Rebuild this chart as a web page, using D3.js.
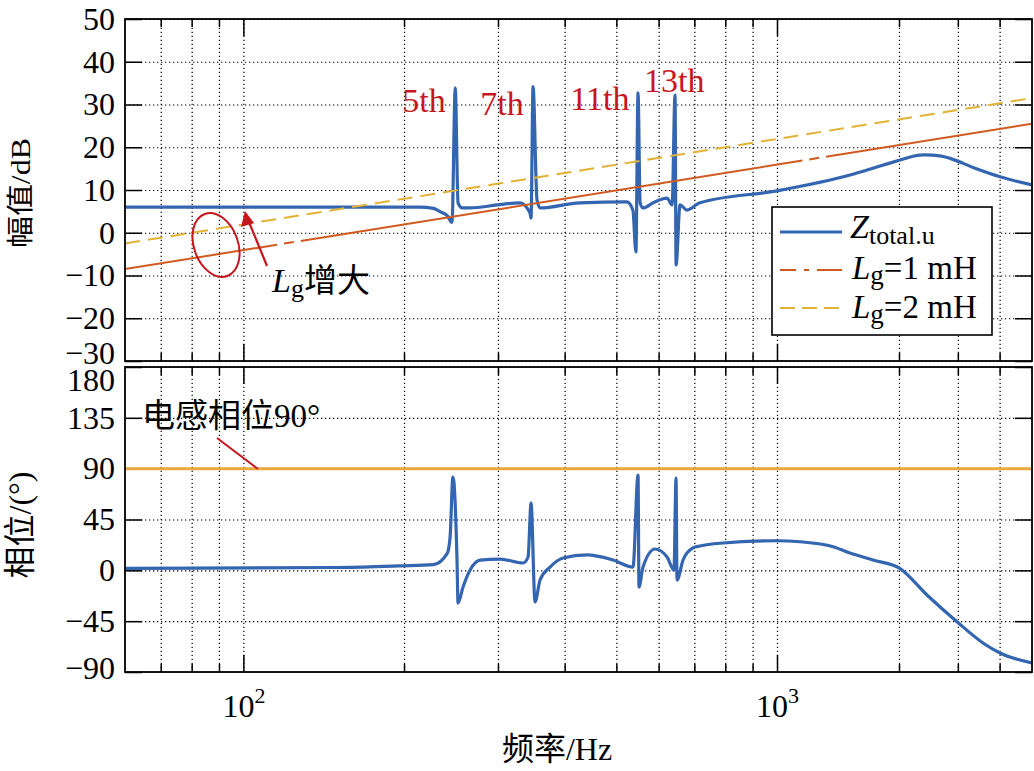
<!DOCTYPE html>
<html>
<head>
<meta charset="utf-8">
<script src="https://cdn.jsdelivr.net/npm/d3@7"></script>
<style>
body { margin: 0; background: #fff; }
text { font-family: "Liberation Serif", "Noto Sans CJK SC", serif; }
</style>
</head>
<body>
<div id="chart"></div>
<script>
// values
const magFreq = [60, 150, 214, 227, 234, 241, 246, 249.5, 252.5, 257, 266, 299, 330, 344.5, 346, 349, 355, 360, 427, 523,
  537, 544, 549, 554, 561, 586, 622, 636, 644, 647, 658, 678, 717, 1000, 1514, 1796, 2014, 2202, 2392, 2652,
  2842, 3377, 4011, 5000];
const magDb = [6.0, 6.0, 6.0, 5.7, 4.9, 4.0, 2.4, 33.9, 7.0, 5.8, 5.8, 6.5, 7.0, 4.6, 3.4, 34.2, 7.7, 5.8, 7.0, 7.2,
  5.3, -4.5, 32.7, 7.0, 5.8, 7.0, 8.1, 6.5, 32.2, -7.5, 6.5, 5.3, 7.0, 9.8, 13.5, 15.6, 17.0, 17.9, 18.2, 18.0,
  17.4, 15.1, 13.1, 11.2];

const phaseFreq = [60, 150, 196, 227, 241, 244, 247, 251.4, 252.5, 258, 266, 277.6, 302.7, 334.3, 341.6, 346, 352, 359.7, 375.6, 397.3,
  440.6, 492.8, 537.2, 549, 551.3, 560.9, 590.7, 622.2, 641.2, 646.8, 649.6, 666.6, 696, 717, 782, 1000, 1139, 1375, 1514, 1725,
  2000, 2425, 2982, 3567, 4011, 5000];
const phaseDeg = [1.8, 2.5, 4.0, 5.0, 15.0, 29.5, 82.6, 9.0, -29.0, -14.8, 0.3, 9.0, 10.0, 6.5, 11.8, 59.6, -28.0, -8.6, 2.9, 10.9,
  13.6, 9.1, 2.9, 84.4, -14.8, 2.9, 18.9, 11.8, 0.3, 81.7, -8.6, 9.1, 19.8, 21.5, 24.0, 26.2, 25.3, 20.9, 15.3, 9.1,
  2.1, -21.8, -45.5, -64.3, -73.2, -82.0];

const lgFreq = [60, 5000];
const lg1Db = [-8.5, 25.5];
const lg2Db = [-2.5, 31.5];
const indFreq = [60, 5000];
const indDeg = [90, 90];

const xKnots = [60, 1000, 2000, 5000];
const xGridTicks = [70, 80, 90, 100, 200, 300, 400, 500, 600, 700, 800, 900, 1000, 2000, 3000, 4000];
const xMajorTicks = [100, 1000];
const magTicks = [-30, -20, -10, 0, 10, 20, 30, 40, 50];
const phaseTicks = [-90, -45, 0, 45, 90, 135, 180];
const harmonicLabels = ["5th", "7th", "11th", "13th"];
const harmonicFreq = [250, 350, 550, 650];
const legendLabels = ["Z", "L", "L"];

const W = 1034, H = 771;
const L = 125, R = 1032;
const magTop = 19, magBot = 361, phTop = 367, phBot = 672;
const SERIF = "'Liberation Serif', 'Noto Sans CJK SC', serif";

const blue = "#3465b0", orange = "#d15a1f", yellow = "#e2b235", amber = "#eaa93c", red = "#c8161d";

const svg = d3.select("#chart").append("svg").attr("width", W).attr("height", H)
  .style("font-family", SERIF);

const x = d3.scaleLog().domain(xKnots).range([L, 777, 899, R]);
const yMag = d3.scaleLinear().domain([-30, 50]).range([magBot, magTop]);
const yPh = d3.scaleLinear().domain([-90, 180]).range([phBot, phTop]);

function grid(top, bot, y, yTicks) {
  const g = svg.append("g");
  g.append("g").attr("transform", `translate(0,${bot})`)
    .call(d3.axisBottom(x).tickValues(xGridTicks).tickSize(-(bot - top)).tickFormat(""))
    .call(a => a.select(".domain").remove());
  g.append("g").attr("transform", `translate(${L},0)`)
    .call(d3.axisLeft(y).tickValues(yTicks).tickSize(-(R - L)).tickFormat(""))
    .call(a => a.select(".domain").remove());
  g.selectAll("line").attr("stroke", "#000").attr("stroke-width", 1.2).attr("stroke-dasharray", "1.3,2.7");
}

function ticks(top, bot, y, yTicks, id) {
  const minor = xGridTicks.filter(d => !xMajorTicks.includes(d));
  const g = svg.append("g");
  const style = a => {
    a.attr("font-family", null).attr("font-size", null);
    a.select(".domain").remove();
    a.selectAll("line").attr("stroke", "#000").attr("stroke-width", 1.5);
  };
  g.append("g").attr("transform", `translate(0,${bot})`).call(d3.axisBottom(x).tickValues(minor).tickSize(-8).tickFormat("")).call(style);
  g.append("g").attr("transform", `translate(0,${top})`).call(d3.axisTop(x).tickValues(minor).tickSize(-8).tickFormat("")).call(style);
  g.append("g").attr("transform", `translate(0,${top})`).call(d3.axisTop(x).tickValues(xMajorTicks).tickSize(-17).tickFormat("")).call(style);
  const xb = g.append("g").attr("transform", `translate(0,${bot})`)
    .call(d3.axisBottom(x).tickValues(xMajorTicks).tickSize(-17)).call(style);
  xb.selectAll(".tick text").remove();
  if (id === "ph") {
    const t = xb.selectAll(".tick").append("text").attr("y", 45).attr("fill", "#000")
      .attr("text-anchor", "middle").style("font-family", SERIF).style("font-size", "32px");
    t.append("tspan").text("10");
    t.append("tspan").attr("dy", -14).style("font-size", "22px").text(d => Math.round(Math.log10(d)));
  }
  g.append("g").attr("transform", `translate(${R},0)`).call(d3.axisRight(y).tickValues(yTicks).tickSize(-17).tickFormat("")).call(style);
  const ya = g.append("g").attr("transform", `translate(${L},0)`)
    .call(d3.axisLeft(y).tickValues(yTicks).tickSize(-17).tickPadding(10)).call(style);
  ya.selectAll(".tick text").style("font-size", "32px").style("font-family", SERIF).attr("fill", "#000");
  ya.selectAll(".tick").filter(d => d === 180).select("text").attr("dy", "0.72em");
  ya.selectAll(".tick").filter(d => d === -30).select("text").attr("dy", "0.08em");
  ya.selectAll(".tick").filter(d => d === -90).select("text").attr("dy", "0.2em");
}

function frame(top, bot) {
  svg.append("rect").attr("x", L).attr("y", top).attr("width", R - L).attr("height", bot - top)
    .attr("fill", "none").attr("stroke", "#000").attr("stroke-width", 1.8);
}

function clip(id, top, bot) {
  svg.append("clipPath").attr("id", id).append("rect").attr("x", L).attr("y", top).attr("width", R - L).attr("height", bot - top);
}
clip("cm", magTop, magBot);
clip("cp", phTop, phBot);

// magnitude panel
grid(magTop, magBot, yMag, magTicks);
ticks(magTop, magBot, yMag, magTicks, "mag");
const lineMag = d3.line().x(d => x(d[0])).y(d => yMag(d[1])).curve(d3.curveMonotoneX);
const curvesMag = svg.append("g").attr("clip-path", "url(#cm)").attr("fill", "none");
curvesMag.append("path").attr("d", lineMag(d3.zip(magFreq, magDb))).attr("stroke", blue).attr("stroke-width", 3.2);
curvesMag.append("path").attr("d", d3.line().x(d => x(d[0])).y(d => yMag(d[1]))(d3.zip(lgFreq, lg1Db)))
  .attr("stroke", orange).attr("stroke-width", 2).attr("stroke-dasharray", "508,7,10,7").attr("stroke-dashoffset", 354);
curvesMag.append("path").attr("d", d3.line().x(d => x(d[0])).y(d => yMag(d[1]))(d3.zip(lgFreq, lg2Db)))
  .attr("stroke", yellow).attr("stroke-width", 2).attr("stroke-dasharray", "15,8");
frame(magTop, magBot);

// phase panel
grid(phTop, phBot, yPh, phaseTicks);
ticks(phTop, phBot, yPh, phaseTicks, "ph");
const linePh = d3.line().x(d => x(d[0])).y(d => yPh(d[1])).curve(d3.curveMonotoneX);
const curvesPh = svg.append("g").attr("clip-path", "url(#cp)").attr("fill", "none");
curvesPh.append("path").attr("d", linePh(d3.zip(indFreq, indDeg))).attr("stroke", amber).attr("stroke-width", 3);
curvesPh.append("path").attr("d", linePh(d3.zip(phaseFreq, phaseDeg))).attr("stroke", blue).attr("stroke-width", 3.2);
frame(phTop, phBot);

// axis titles
svg.append("text").attr("transform", "translate(30,193) rotate(-90) scale(1,0.85)")
  .attr("text-anchor", "middle").style("font-size", "32px").text("幅值/dB");
svg.append("text").attr("transform", "translate(31,525) rotate(-90)")
  .attr("text-anchor", "middle").style("font-size", "32px").text("相位/(°)");
svg.append("text").attr("x", 557).attr("y", 760).attr("text-anchor", "middle").style("font-size", "32px").text("频率/Hz");

// harmonic labels
const hPlace = [{ dx: -10, y: 112, a: "end" }, { dx: -10, y: 115, a: "end" }, { dx: -9, y: 110, a: "end" }, { dx: -3, y: 92, a: "middle" }];
svg.append("g").selectAll("text").data(harmonicLabels).join("text")
  .attr("x", (d, i) => x(harmonicFreq[i]) + hPlace[i].dx)
  .attr("y", (d, i) => hPlace[i].y)
  .attr("text-anchor", (d, i) => hPlace[i].a)
  .style("font-size", "34px").attr("fill", red).text(d => d);

// Lg annotation: ellipse + arrow
svg.append("ellipse").attr("transform", "translate(216,245) rotate(-20)")
  .attr("rx", 22).attr("ry", 33).attr("fill", "none").attr("stroke", red).attr("stroke-width", 2);
svg.append("line").attr("x1", 267).attr("y1", 266).attr("x2", 249).attr("y2", 222)
  .attr("stroke", red).attr("stroke-width", 2.2);
svg.append("path").attr("d", "M245,211 L241,227 L254,223 Z").attr("fill", red);
const lgT = svg.append("text").attr("x", 272).attr("y", 292).style("font-size", "34px");
lgT.append("tspan").attr("font-style", "italic").text("L");
lgT.append("tspan").style("font-size", "26px").attr("dy", 5).text("g");
lgT.append("tspan").attr("dy", -5).style("font-size", "33px").text("增大");

// inductor phase annotation
svg.append("text").attr("x", 142).attr("y", 427).style("font-size", "33px")
  .call(t => {
    t.append("tspan").text("电感相位");
    t.append("tspan").text("90°");
  });
svg.append("line").attr("x1", 217).attr("y1", 438).attr("x2", 258).attr("y2", 469)
  .attr("stroke", red).attr("stroke-width", 2);

// legend
const lg = svg.append("g").attr("transform", "translate(772,207)");
lg.append("rect").attr("width", 220).attr("height", 128).attr("fill", "#fff").attr("stroke", "#000").attr("stroke-width", 1.6);
const rows = [
  { c: blue, dash: null, w: 3.2 },
  { c: orange, dash: "16,8,5,8,25,100", w: 2 },
  { c: yellow, dash: "15,7", w: 2 }
];
lg.selectAll("line.s").data(rows).join("line").attr("class", "s")
  .attr("x1", 8).attr("x2", 70).attr("y1", (d, i) => 25 + i * 38).attr("y2", (d, i) => 25 + i * 38)
  .attr("stroke", d => d.c).attr("stroke-width", d => d.w).attr("stroke-dasharray", d => d.dash);
const z = lg.append("text").attr("x", 78).attr("y", 31).style("font-size", "34px");
z.append("tspan").attr("font-style", "italic").text(legendLabels[0]);
z.append("tspan").style("font-size", "26px").attr("dy", 6).text("total.u");
["=1 mH", "=2 mH"].forEach((s, i) => {
  const t = lg.append("text").attr("x", 80).attr("y", 72 + i * 39).style("font-size", "33px");
  t.append("tspan").attr("font-style", "italic").text(legendLabels[i + 1]);
  t.append("tspan").style("font-size", "27px").attr("dy", 5).text("g");
  t.append("tspan").attr("dy", -5).text(s);
});
</script>
</body>
</html>
